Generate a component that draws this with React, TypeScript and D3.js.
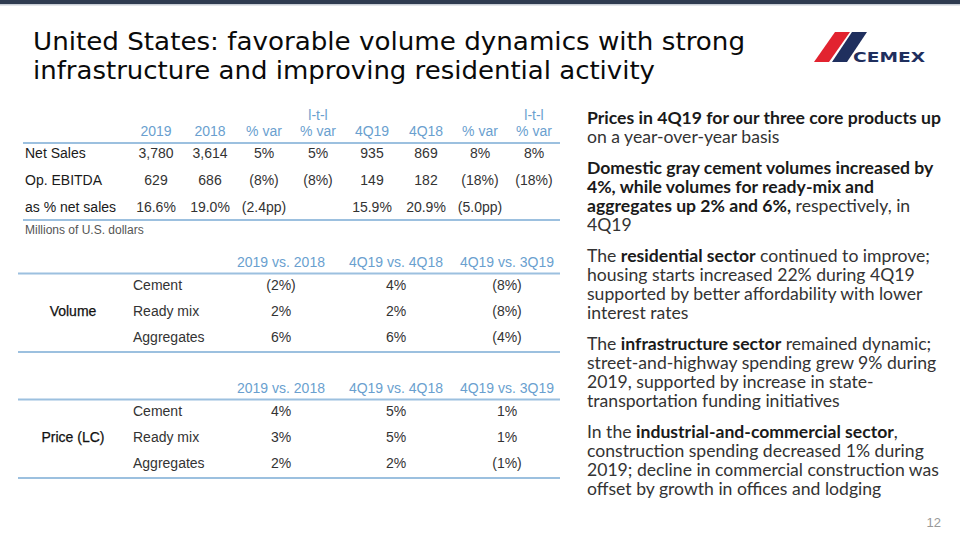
import React from "react";
import * as d3 from "d3";

const title = [
  "United States: favorable volume dynamics with strong",
  "infrastructure and improving residential activity",
];

const finColumns = ["2019", "2018", "% var", "% var", "4Q19", "4Q18", "% var", "% var"];
const finColumnTop = ["", "", "", "l-t-l", "", "", "", "l-t-l"];
const finRowLabels = ["Net Sales", "Op. EBITDA", "as % net sales"];
const finNetSales = ["3,780", "3,614", "5%", "5%", "935", "869", "8%", "8%"];
const finEbitda = ["629", "686", "(8%)", "(8%)", "149", "182", "(18%)", "(18%)"];
const finMargin = ["16.6%", "19.0%", "(2.4pp)", "", "15.9%", "20.9%", "(5.0pp)", ""];
const finNote = "Millions of U.S. dollars";

const cmpColumns = ["2019 vs. 2018", "4Q19 vs. 4Q18", "4Q19 vs. 3Q19"];
const products = ["Cement", "Ready mix", "Aggregates"];
const volumeCement = ["(2%)", "4%", "(8%)"];
const volumeReadyMix = ["2%", "2%", "(8%)"];
const volumeAggregates = ["6%", "6%", "(4%)"];
const priceCement = ["4%", "5%", "1%"];
const priceReadyMix = ["3%", "5%", "1%"];
const priceAggregates = ["2%", "2%", "(1%)"];

type Seg = { t: string; b?: boolean };
const bullets: Seg[][][] = [
  [
    [{ t: "Prices in 4Q19 for our three core products up", b: true }],
    [{ t: "on a year-over-year basis" }],
  ],
  [
    [{ t: "Domestic gray cement volumes increased by", b: true }],
    [{ t: "4%, while volumes for ready-mix and", b: true }],
    [{ t: "aggregates up 2% and 6%,", b: true }, { t: " respectively, in" }],
    [{ t: "4Q19" }],
  ],
  [
    [{ t: "The " }, { t: "residential sector", b: true }, { t: " continued to improve;" }],
    [{ t: "housing starts increased 22% during 4Q19" }],
    [{ t: "supported by better affordability with lower" }],
    [{ t: "interest rates" }],
  ],
  [
    [{ t: "The " }, { t: "infrastructure sector", b: true }, { t: " remained dynamic;" }],
    [{ t: "street-and-highway spending grew 9% during" }],
    [{ t: "2019, supported by increase in state-" }],
    [{ t: "transportation funding initiatives" }],
  ],
  [
    [{ t: "In the " }, { t: "industrial-and-commercial sector", b: true }, { t: "," }],
    [{ t: "construction spending decreased 1% during" }],
    [{ t: "2019; decline in commercial construction was" }],
    [{ t: "offset by growth in offices and lodging" }],
  ],
];

const W = 960;
const H = 540;
const BLUE = "#6a9fcf";
const RULE = "#9cc0df";
const TXT = "#1a1a1a";
const TF = "'Liberation Sans', Arial, sans-serif";
const RF = "Lato, 'Open Sans', sans-serif";
const FS = 14;

export default function App() {
  const finX = d3.scalePoint<number>().domain(d3.range(finColumns.length)).range([156, 534]);
  const finY = d3.scalePoint<string>().domain(finRowLabels).range([153, 207]);
  const finRows = [finNetSales, finEbitda, finMargin];

  const cmpX = d3.scaleOrdinal<string, number>().domain(cmpColumns).range([281, 396, 507]);

  const volRows = [volumeCement, volumeReadyMix, volumeAggregates];
  const priceRows = [priceCement, priceReadyMix, priceAggregates];

  const cmpTable = (top: number, label: string, rows: string[][]) => {
    const y = d3.scalePoint<string>().domain(products).range([top + 23, top + 75]);
    return (
      <g>
        {cmpColumns.map((c) => (
          <text key={c} x={cmpX(c)} y={top + 5} textAnchor="middle" fill={BLUE} fontSize={FS} fontFamily={TF}>
            {c}
          </text>
        ))}
        <line x1={18} x2={560} y1={top + 11.5} y2={top + 11.5} stroke={RULE} strokeWidth={2} />
        <text x={73} y={(y("Ready mix") as number) + 5} textAnchor="middle" fontSize={FS} fontFamily={TF} fill="#111" stroke="#111" strokeWidth={0.25}>
          {label}
        </text>
        {products.map((p, i) => (
          <g key={p}>
            <text x={133} y={(y(p) as number) + 5} fontSize={FS} fontFamily={TF} fill="#333">
              {p}
            </text>
            {rows[i].map((v, j) => (
              <text key={j} x={cmpX(cmpColumns[j])} y={(y(p) as number) + 5} textAnchor="middle" fontSize={FS} fontFamily={TF} fill="#333">
                {v}
              </text>
            ))}
          </g>
        ))}
        <line x1={18} x2={560} y1={top + 90} y2={top + 90} stroke={RULE} strokeWidth={2} />
      </g>
    );
  };

  let lineY = 124;
  const bulletEls: React.ReactNode[] = [];
  bullets.forEach((para, pi) => {
    if (pi > 0) lineY += 12;
    para.forEach((line, li) => {
      bulletEls.push(
        <text key={`${pi}-${li}`} x={587} y={lineY} fontSize={17.6} fontFamily={RF} fill="#333">
          {line.map((s, si) => (
            <tspan key={si} fontWeight={s.b ? 700 : 400} fill={s.b ? "#1a1a1a" : "#333"}>
              {s.t}
            </tspan>
          ))}
        </text>
      );
      lineY += 19;
    });
  });

  const titleWidths = [712, 622];

  return (
    <svg width={W} height={H} style={{ position: "absolute", left: 0, top: 0, background: "#fff" }}>
      <rect x={0} y={0} width={W} height={H} fill="#fff" />
      <rect x={0} y={0} width={W} height={4} fill="#2f3b50" />
      <rect x={0} y={4} width={W} height={1.5} fill="#c9ced6" />

      {title.map((t, i) => (
        <text key={i} x={33} y={50 + i * 29} fontSize={24} fontFamily="'DejaVu Sans', sans-serif" fill="#0a0a0a" textLength={titleWidths[i]} lengthAdjust="spacingAndGlyphs">
          {t}
        </text>
      ))}

      {/* logo */}
      <polygon points="835,32 850,32 829,62 814,62" fill="#e2232f" />
      <polygon points="852,32 867,32 847,62 832,62" fill="#1f2f5e" />
      <text x={853} y={61.5} fontSize={14} fontWeight={700} fontFamily="'DejaVu Sans', sans-serif" fill="#1f2f5e" textLength={72} lengthAdjust="spacingAndGlyphs">
        CEMEX
      </text>

      {/* financial table */}
      {finColumns.map((c, i) => (
        <g key={i}>
          {finColumnTop[i] && (
            <text x={finX(i)} y={120} textAnchor="middle" fill={BLUE} fontSize={FS} fontFamily={TF}>
              {finColumnTop[i]}
            </text>
          )}
          <text x={finX(i)} y={136} textAnchor="middle" fill={BLUE} fontSize={FS} fontFamily={TF}>
            {c}
          </text>
        </g>
      ))}
      <line x1={23} x2={560} y1={143} y2={143} stroke={RULE} strokeWidth={2} />
      {finRowLabels.map((r, ri) => (
        <g key={r}>
          <text x={25} y={(finY(r) as number) + 5} fontSize={FS} fontFamily={TF} fill={TXT}>
            {r}
          </text>
          {finRows[ri].map((v, ci) => (
            <text key={ci} x={finX(ci)} y={(finY(r) as number) + 5} textAnchor="middle" fontSize={FS} fontFamily={TF} fill="#333">
              {v}
            </text>
          ))}
        </g>
      ))}
      <line x1={23} x2={560} y1={220} y2={220} stroke={RULE} strokeWidth={2} />
      <text x={25} y={234} fontSize={12} fontFamily={TF} fill="#555">
        {finNote}
      </text>

      {cmpTable(262, "Volume", volRows)}
      {cmpTable(388, "Price (LC)", priceRows)}

      {bulletEls}

      <text x={941} y={527} textAnchor="end" fontSize={13} fontFamily={TF} fill="#999">
        12
      </text>
    </svg>
  );
}
